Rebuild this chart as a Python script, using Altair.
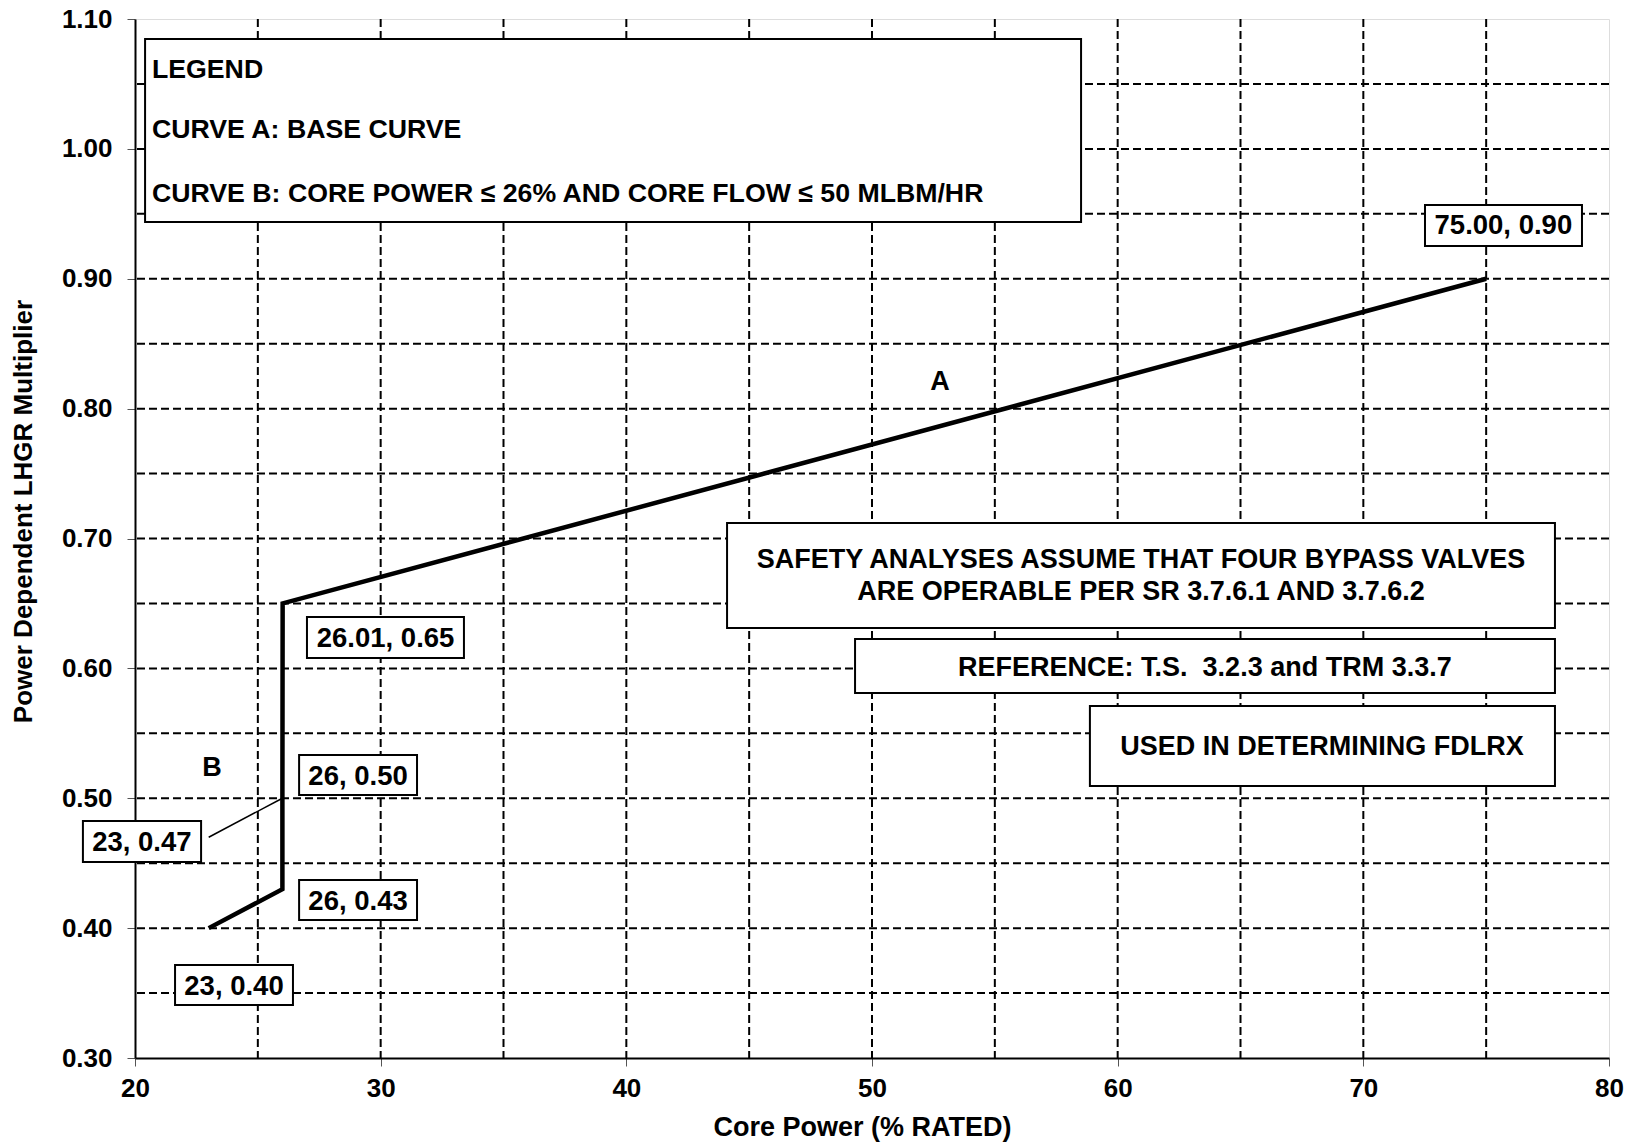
import altair as alt
import pandas as pd

# ---- data ----
CURVE_X = [23, 26, 26, 26.01, 75]
CURVE_Y = [0.40, 0.43, 0.50, 0.65, 0.90]

LEADER_X = [23, 26]
LEADER_Y = [0.47, 0.50]

X_TICKS = [20, 30, 40, 50, 60, 70, 80]
Y_TICKS = [0.30, 0.40, 0.50, 0.60, 0.70, 0.80, 0.90, 1.00, 1.10]
X_GRID = [25, 30, 35, 40, 45, 50, 55, 60, 65, 70, 75]
Y_GRID = [0.35, 0.40, 0.45, 0.50, 0.55, 0.60, 0.65, 0.70, 0.75, 0.80, 0.85, 0.90, 0.95, 1.00, 1.05]

POINT_LABELS = ["75.00, 0.90", "26.01, 0.65", "26, 0.50", "23, 0.47", "26, 0.43", "23, 0.40"]
CURVE_NAMES = ["A", "B"]
LEGEND_LINES = ["LEGEND", "CURVE A: BASE CURVE",
                "CURVE B: CORE POWER \u2264 26% AND CORE FLOW \u2264 50 MLBM/HR"]
NOTE_LINES = ["SAFETY ANALYSES ASSUME THAT FOUR BYPASS VALVES",
              "ARE OPERABLE PER SR 3.7.6.1 AND 3.7.6.2",
              "REFERENCE: T.S.\u00a0 3.2.3 and TRM 3.3.7",
              "USED IN DETERMINING FDLRX"]

# ---- annotation layout (data units) ----
# label boxes: x1, x2, ytop, ybottom, text x, text baseline y
LABEL_BOX = [
    (72.51, 78.90, 0.9568, 0.9252, 75.70, 0.9345),
    (27.00, 33.39, 0.6396, 0.6080, 30.20, 0.6165),
    (26.68, 31.48, 0.5333, 0.5025, 29.08, 0.5102),
    (17.88, 22.69, 0.4825, 0.4509, 20.28, 0.4594),
    (26.68, 31.48, 0.4371, 0.4063, 29.08, 0.4140),
    (21.63, 26.43, 0.3716, 0.3408, 24.03, 0.3485),
]
CURVE_NAME_POS = [(52.77, 0.8205), (23.13, 0.5233)]
LEGEND_BOX = (20.41, 58.51, 1.0846, 0.9437)
LEGEND_TEXT_X = 20.69
LEGEND_TEXT_Y = [1.0546, 1.0084, 0.9591]
NOTE_BOXES = [
    (44.10, 77.80, 0.7119, 0.6311),
    (49.31, 77.80, 0.6226, 0.5810),
    (58.87, 77.80, 0.5710, 0.5094),
]
NOTE_TEXT_X = [60.95, 60.95, 63.55, 68.32]
NOTE_TEXT_Y = [0.6773, 0.6527, 0.5941, 0.5333]

FONT = "Liberation Sans"

xs = alt.Scale(domain=[20, 80], nice=False, zero=False)
ys = alt.Scale(domain=[0.30, 1.10], nice=False, zero=False)

xaxis = alt.Axis(values=X_TICKS, format="d", grid=False, title="Core Power (% RATED)",
                 labelFont=FONT, labelFontSize=26, labelFontWeight="bold", labelColor="black",
                 labelPadding=9, labelFlush=False, tickSize=8, tickColor="#555", tickWidth=1,
                 domainColor="black", domainWidth=2,
                 titleFont=FONT, titleFontSize=27, titleFontWeight="bold", titleColor="black",
                 titleX=727, titleY=69, titleBaseline="middle")
yaxis = alt.Axis(values=Y_TICKS, format=".2f", grid=False, title="Power Dependent LHGR Multiplier",
                 labelFont=FONT, labelFontSize=26, labelFontWeight="bold", labelColor="black",
                 labelPadding=15, labelFlush=False, tickSize=8, tickColor="#555", tickWidth=1,
                 domainColor="black", domainWidth=2,
                 titleFont=FONT, titleFontSize=26, titleFontWeight="bold", titleColor="black",
                 titleX=-112, titleY=492, titleAngle=270, titleAlign="center", titleBaseline="middle")


def X(f="x"):
    return alt.X(f, type="quantitative", scale=xs, axis=xaxis)


def Y(f="y"):
    return alt.Y(f, type="quantitative", scale=ys, axis=yaxis)


grid_style = dict(color="black", strokeWidth=2, strokeDash=[8, 4])

vgrid = alt.Chart(pd.DataFrame({"x": X_GRID})).mark_rule(**grid_style).encode(x=X())
hgrid = alt.Chart(pd.DataFrame({"y": Y_GRID})).mark_rule(**grid_style).encode(y=Y())

curve_df = pd.DataFrame({"x": CURVE_X, "y": CURVE_Y, "o": list(range(len(CURVE_X)))})
curve = alt.Chart(curve_df).mark_line(color="black", strokeWidth=4.5, strokeJoin="miter").encode(
    x=X(), y=Y(), order="o:Q")

leader = alt.Chart(pd.DataFrame({"x": LEADER_X, "y": LEADER_Y})).mark_line(
    color="black", strokeWidth=1.5).encode(x=X(), y=Y())

box_rows = []
for b in LABEL_BOX:
    box_rows.append({"x": b[0], "x2": b[1], "y": b[2], "y2": b[3]})
box_rows.append({"x": LEGEND_BOX[0], "x2": LEGEND_BOX[1], "y": LEGEND_BOX[2], "y2": LEGEND_BOX[3]})
for b in NOTE_BOXES:
    box_rows.append({"x": b[0], "x2": b[1], "y": b[2], "y2": b[3]})
boxes = alt.Chart(pd.DataFrame(box_rows)).mark_rect(
    fill="white", stroke="black", strokeWidth=2).encode(
    x=X(), x2=alt.X2("x2"), y=Y(), y2=alt.Y2("y2"))

lbl_df = pd.DataFrame({"t": POINT_LABELS, "x": [b[4] for b in LABEL_BOX], "y": [b[5] for b in LABEL_BOX]})
labels = alt.Chart(lbl_df).mark_text(font=FONT, fontSize=27.5, fontWeight="bold", color="black",
                                     align="center", baseline="alphabetic").encode(
    x=X(), y=Y(), text="t:N")

names_df = pd.DataFrame({"t": CURVE_NAMES, "x": [p[0] for p in CURVE_NAME_POS], "y": [p[1] for p in CURVE_NAME_POS]})
names = alt.Chart(names_df).mark_text(font=FONT, fontSize=27, fontWeight="bold", color="black",
                                      align="center", baseline="middle").encode(
    x=X(), y=Y(), text="t:N")

leg_df = pd.DataFrame({"t": LEGEND_LINES, "x": [LEGEND_TEXT_X] * 3, "y": LEGEND_TEXT_Y})
legend_text = alt.Chart(leg_df).mark_text(font=FONT, fontSize=26.7, fontWeight="bold", color="black",
                                          align="left", baseline="alphabetic").encode(
    x=X(), y=Y(), text="t:N")

note_df = pd.DataFrame({"t": NOTE_LINES, "x": NOTE_TEXT_X, "y": NOTE_TEXT_Y})
note_text = alt.Chart(note_df).mark_text(font=FONT, fontSize=27, fontWeight="bold", color="black",
                                         align="center", baseline="alphabetic").encode(
    x=X(), y=Y(), text="t:N")

chart = alt.layer(vgrid, hgrid, curve, leader, boxes, labels, names, legend_text, note_text).properties(
    width=1474, height=1039,
    autosize=alt.AutoSizeParams(type="none"),
    padding={"left": 127, "top": 11, "right": 20, "bottom": 85},
).configure_view(stroke="black", strokeWidth=2).configure(background="white")

chart.save("out.html", embed_options={"renderer": "svg", "actions": False})
